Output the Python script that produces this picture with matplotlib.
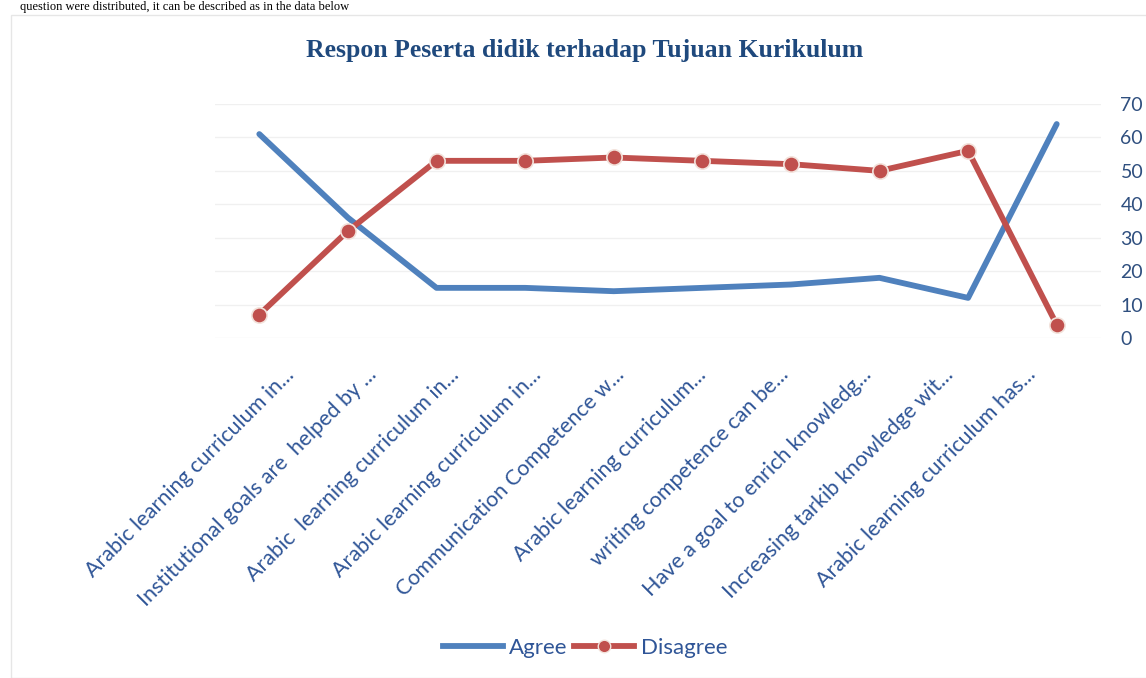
import matplotlib
matplotlib.use("Agg")
import matplotlib.pyplot as plt
from matplotlib.patches import Rectangle
from matplotlib.transforms import ScaledTranslation
from matplotlib.lines import Line2D

categories = [
    "Arabic learning curriculum in...",
    "Institutional goals are  helped by ...",
    "Arabic  learning curriculum in...",
    "Arabic learning curriculum in...",
    "Communication Competence w...",
    "Arabic learning curriculum...",
    "writing competence can be...",
    "Have a goal to enrich knowledg...",
    "Increasing tarkib knowledge wit...",
    "Arabic learning curriculum has...",
]
agree = [61, 36, 15, 15, 14, 15, 16, 18, 12, 64]
disagree = [7, 32, 53, 53, 54, 53, 52, 50, 56, 4]
yticks = [0, 10, 20, 30, 40, 50, 60, 70]
title = "Respon Peserta didik terhadap Tujuan Kurikulum"

W, H = 1146, 678
fig = plt.figure(figsize=(W / 100, H / 100), dpi=100)
fig.patch.set_facecolor("white")

# chart area border
fig.patches.append(Rectangle((11 / W, 0), 1.2, 1 - 15 / H, transform=fig.transFigure,
                             fill=False, edgecolor="#e6e6e6", lw=1.0))
# paragraph text above the chart
fig.text(20 / W, 1 - 1 / H, "question were distributed, it can be described as in the data below",
         family="Liberation Serif", fontsize=9, color="black", va="top", ha="left")

ax = fig.add_axes([215 / W, 1 - 338 / H, (1101 - 215) / W, (338 - 104) / H])
x = list(range(len(categories)))
ax.plot(x, agree, color="#4f81bd", lw=4.2, solid_capstyle="round", solid_joinstyle="round", zorder=3)
ax.plot(x, disagree, color="#c0504d", lw=4.2, marker="o", markersize=11,
        markerfacecolor="#c0504d", markeredgecolor="#f3e3dc", markeredgewidth=1.2,
        solid_capstyle="round", zorder=4)

ax.set_xlim(-0.5, len(categories) - 0.5)
ax.set_ylim(0, 70)
ax.set_yticks(yticks)
ax.yaxis.tick_right()
ax.tick_params(axis="y", length=0, pad=14, labelsize=14, labelcolor="#2f4f7f")
for lab in ax.get_yticklabels():
    lab.set_family("Lato")
ax.grid(axis="y", color="#f0f0f0", lw=1)
ax.set_axisbelow(True)
for s in ax.spines.values():
    s.set_visible(False)

ax.set_xticks(x)
ax.set_xticklabels(categories, rotation=45, ha="right", rotation_mode="anchor",
                   family="Lato", fontsize=15.5, color="#2f5597")
ax.tick_params(axis="x", length=0, pad=19)
for i, lab in enumerate(ax.get_xticklabels()):
    dx = (25 - i * 6.2) / 100
    lab.set_transform(lab.get_transform() + ScaledTranslation(dx, 0, fig.dpi_scale_trans))

fig.text(585 / W, 1 - 50 / H, title, family="Liberation Serif", fontweight="bold",
         fontsize=18.5, color="#1f497d", ha="center", va="center")

handles = [
    Line2D([], [], color="#4f81bd", lw=4.2),
    Line2D([], [], color="#c0504d", lw=4.2, marker="o", markersize=9,
           markerfacecolor="#c0504d", markeredgecolor="#f3e3dc"),
]
leg = fig.legend(handles, ["Agree", "Disagree"], loc="center", bbox_to_anchor=(585 / W, 1 - 648 / H),
                 ncol=2, frameon=False, handlelength=2.7, handletextpad=0.3, columnspacing=0.3,
                 prop={"family": "Lato", "size": 16})
for t in leg.get_texts():
    t.set_color("#2f5597")

fig.savefig("out.png", dpi=100, facecolor="white")
